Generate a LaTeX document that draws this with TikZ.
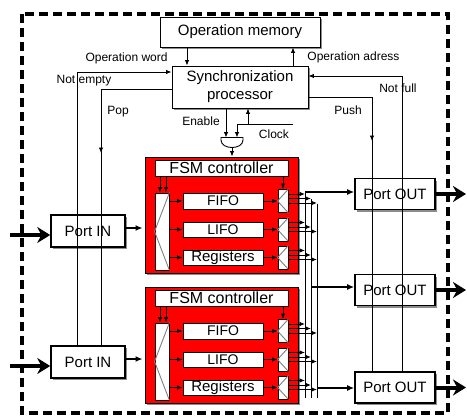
\documentclass[tikz,border=0pt]{standalone}
\usepackage{fontspec}
\setmainfont{Liberation Sans}
\usetikzlibrary{arrows.meta,shadows,calc}
\newcommand{\fsz}[1]{\fontsize{#1}{#1}\selectfont}
\begin{document}
\begin{tikzpicture}[x=1pt,y=-1pt,line width=0.9pt,
  shd/.style={drop shadow={shadow xshift=2pt,shadow yshift=-2pt,fill=black!45,opacity=1}},
  box/.style={draw,fill=white,inner sep=0pt,align=center,shd},
  inbox/.style={draw,fill=white,inner sep=0pt,align=center},
  portbox/.style={box,line width=1.6pt,font=\fsz{15},minimum width=74pt,minimum height=32pt},
  outbox/.style={box,line width=1.6pt,font=\fsz{15},minimum width=80pt,minimum height=31pt},
  redblk/.style={draw,fill=red,inner sep=0pt,shd},
  sig/.style={-{Latex[length=5.5pt,width=4.5pt]}},
  thk/.style={line width=1.6pt,-{Latex[length=7pt,width=6pt]}},
  big/.style={line width=4pt,-{Stealth[length=13pt,width=16pt]}},
  lbl/.style={font=\fsz{12},inner sep=0pt},
  mux/.style={inbox,minimum width=10pt,minimum height=23pt}
]
\useasboundingbox (0,0) rectangle (467,418);
\draw[line width=4pt,dash pattern=on 9pt off 5pt] (22,14) rectangle (448,413);

% top
\node[box,font=\fsz{15},minimum width=160pt,minimum height=30pt] (mem) at (240,32) {Operation memory};
\node[box,font=\fontsize{15}{18}\selectfont,minimum width=136pt,minimum height=42pt] (sync) at (240,87) {Synchronization\\processor};

% ports
\node[portbox] (in1) at (88,231) {Port IN};
\node[portbox] (in2) at (88,362) {Port IN};
\node[outbox] (out1) at (395,194) {Port OUT};
\node[outbox] (out2) at (395,290) {Port OUT};
\node[outbox] (out3) at (395,387.5) {Port OUT};

% red blocks
\foreach \k/\dy in {1/0,2/130}{
  \node[redblk,minimum width=153pt,minimum height=116pt] (red\k) at (221.5,215+\dy) {};
  \node[inbox,font=\fsz{16},minimum width=133pt,minimum height=16pt] (fsm\k) at (221.5,168+\dy) {FSM controller};
  \node[inbox,minimum width=14pt,minimum height=77pt] (dmx\k) at (162,231.5+\dy) {};
  \draw[gray] (dmx\k.north east) -- (dmx\k.west) -- (dmx\k.south east);
  \node[inbox,font=\fsz{14},minimum width=80pt,minimum height=16pt] (fa\k) at (223,201+\dy) {FIFO};
  \node[inbox,font=\fsz{14},minimum width=80pt,minimum height=15pt] (fb\k) at (223,229.5+\dy) {LIFO};
  \node[inbox,font=\fsz{15},minimum width=80pt,minimum height=15pt] (fc\k) at (223,257.5+\dy) {Registers};
  \node[mux] (ma\k) at (283,201+\dy) {};
  \node[mux] (mb\k) at (283,229.5+\dy) {};
  \node[mux] (mc\k) at (283,257.5+\dy) {};
  \foreach \m in {ma,mb,mc}{
    \draw[gray] (\m\k.north east) -- (\m\k.west) -- (\m\k.south east);
  }
  \coordinate (fl\k) at (160,0);
  \coordinate (fr\k) at (166,0);
  \draw[sig] (fsm\k.south -| fl\k) -- (dmx\k.north -| fl\k);
  \draw[sig] (fsm\k.south -| fr\k) -- (dmx\k.north -| fr\k);
  \draw[sig] (fsm\k.south -| ma\k) -- (ma\k.north);
  \draw[sig] (fa\k.west -| dmx\k.east) -- (fa\k.west);
  \draw[sig] (fb\k.west -| dmx\k.east) -- (fb\k.west);
  \draw[sig] (fc\k.west -| dmx\k.east) -- (fc\k.west);
  \draw[sig] (fa\k.east) -- (ma\k.west);
  \draw[sig] (fb\k.east) -- (mb\k.west);
  \draw[sig] (fc\k.east) -- (mc\k.west);
}

% buses
\coordinate (bA) at (305,192);
\coordinate (bB) at (311,199);
\coordinate (bC) at (317,203.5);
\coordinate (bot) at (0,398);
\draw (bA) -- (bA |- bot);
\draw (bB) -- (bB |- bot);
\draw (bC) -- (bC |- bot);
\foreach \k in {1,2}{
  \foreach \m in {ma,mb,mc}{
    \draw[sig] ($(\m\k.east)+(0,-7)$) -- ($(\m\k.east -| bA)+(0,-7)$);
    \draw[sig] ($(\m\k.east)+(0,-2.5)$) -- ($(\m\k.east -| bB)+(0,-2.5)$);
    \draw[sig] ($(\m\k.east)+(0,2)$) -- ($(\m\k.east -| bC)+(0,2)$);
  }
}
\coordinate (pB) at (311,287);
\coordinate (pC) at (317,388);
\draw[thk] (bA) -- (bA -| out1.west);
\draw[thk] (pB) -- (pB -| out2.west);
\draw[thk] (pC) -- (pC -| out3.west);

% port in -> red
\draw[thk] ($(in1.east)+(0,-3)$) -- ($(in1.east -| red1.west)+(-2,-3)$);
\draw[thk] ($(in2.east)+(0,-3)$) -- ($(in2.east -| red2.west)+(-2,-3)$);

% big arrows
\coordinate (ia1) at (10,235);
\coordinate (ia2) at (10,366);
\coordinate (re) at (466,0);
\draw[big] (ia1) -- (ia1 -| in1.west);
\draw[big] (ia2) -- (ia2 -| in2.west);
\draw[big] (out1.east) -- (out1.east -| re);
\draw[big] (out2.east) -- (out2.east -| re);
\draw[big] (out3.east) -- (out3.east -| re);

% memory <-> sync
\coordinate (ow) at (187,0);
\coordinate (oad) at (293,0);
\draw[sig] (mem.south -| ow) -- (sync.north -| ow);
\draw[sig] (sync.north -| oad) -- (mem.south -| oad);
\node[lbl,anchor=east] (lw) at (168,58) {Operation word};
\node[lbl,anchor=west] (la) at (307,57) {Operation adress};

% left signals
\coordinate (ne) at (77,72);
\draw[sig] (in2.north -| ne) -- (ne) -- (ne -| sync.west);
\coordinate (pp) at (101,89);
\coordinate (popA) at (101,153);
\draw (sync.west |- pp) -- (pp) -- (in2.north -| pp);
\draw[sig] (pp) -- (popA);
\node[lbl] (lne) at (84,81) {Not empty};
\node[lbl] (lpop) at (118,112) {Pop};

% right signals
\coordinate (ps) at (372,97);
\coordinate (pushA) at (372,141);
\draw (sync.east |- ps) -- (ps) -- (out3.north -| ps);
\draw[sig] (ps) -- (pushA);
\coordinate (nf) at (402,76);
\draw[sig] (out3.north -| nf) -- (nf) -- (sync.east |- nf);
\node[lbl] (lnf) at (398,88) {Not full};
\node[lbl] (lpush) at (348,110) {Push};

% enable / clock gate
\draw[fill=white] (221,137.5) -- (243,137.5) -- (243,140) .. controls (243,150) and (221,150) .. (221,140) -- cycle;
\coordinate (g1) at (226,137.5);
\coordinate (g2) at (237,137.5);
\coordinate (gout) at (232,147.5);
\draw[sig] (sync.south -| g1) -- (g1);
\coordinate (clk) at (293,124);
\draw[sig] (clk) -- (clk -| g2) -- (g2);
\coordinate (cb) at (248,124);
\draw[sig] (cb) -- (sync.south -| cb);
\draw[sig] (gout) -- (red1.north -| gout);
\node[lbl] (len) at (201,121) {Enable};
\node[lbl] (lclk) at (274,134) {Clock};
\end{tikzpicture}
\end{document}
